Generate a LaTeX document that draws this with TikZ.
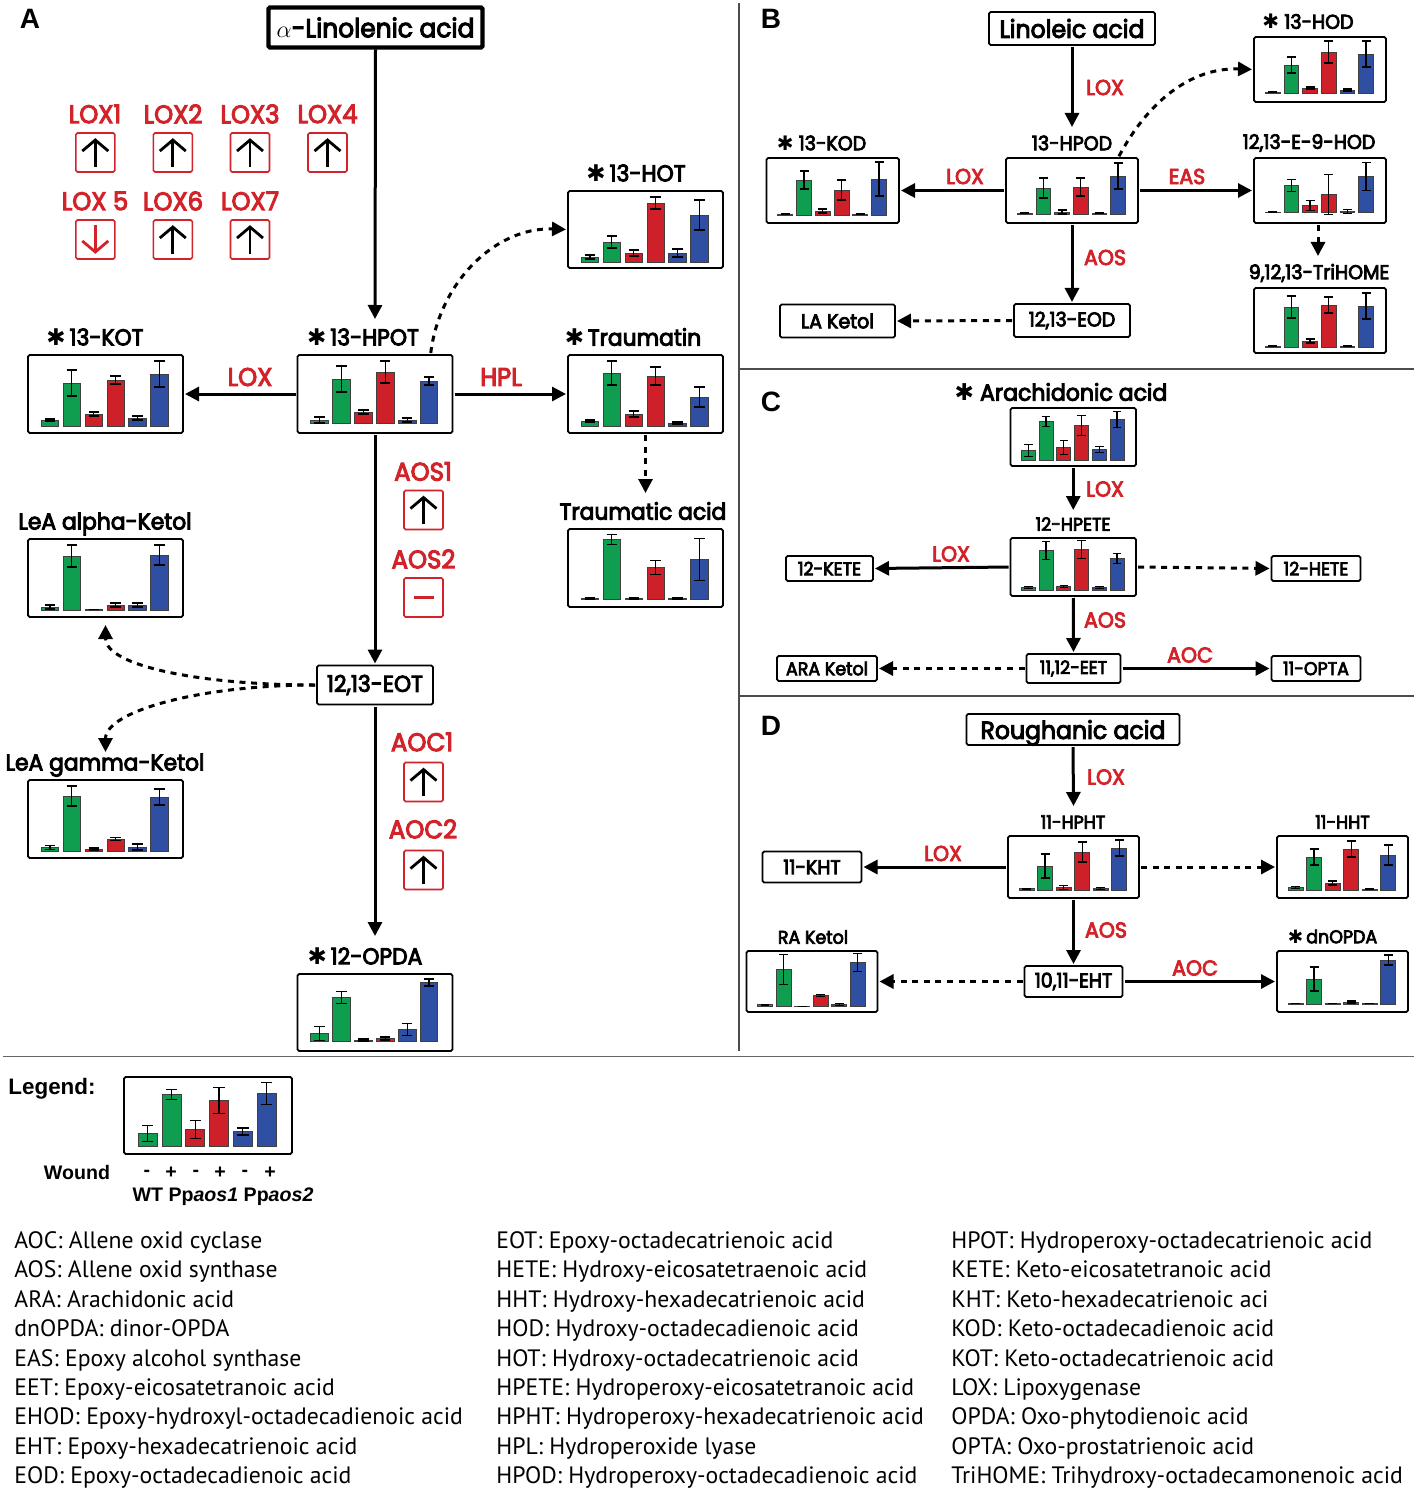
\documentclass[tikz,border=0pt]{standalone}
\usepackage{fontspec}
\usetikzlibrary{arrows.meta}
\setmainfont{Liberation Sans}
\newfontfamily\gothic[FakeStretch=0.95,FakeBold=4]{Poppins}
\newfontfamily\bodyfont{PT Sans}
\newfontfamily\dingfont{DejaVu Sans}

\definecolor{enzred}{HTML}{D2232A}
\definecolor{barc0}{HTML}{0F9D4F}
\colorlet{barc1}{barc0}
\definecolor{barc2}{HTML}{CE2029}
\colorlet{barc3}{barc2}
\definecolor{barc4}{HTML}{2F4FA2}
\colorlet{barc5}{barc4}

\newcommand{\starmark}{{\dingfont ✱}}

\tikzset{
	chartbox/.style={draw, line width=0.85pt, rounded corners=0.8pt, inner sep=0pt, outer sep=0pt, anchor=north west},
	textbox/.style={draw, line width=0.85pt, rounded corners=0.8pt, inner sep=0pt, outer sep=0pt},
	regbox/.style={draw=enzred, line width=0.8pt, rounded corners=0.8pt, inner sep=0pt, minimum width=19.5pt, minimum height=19.5pt},
	regarrow/.style={line width=1.4pt, -{Straight Barb[length=5.5pt,width=13pt]}},
	flow/.style={line width=1.5pt, shorten >=1pt, shorten <=1pt, -{Triangle[length=7pt,width=7pt]}},
	dashflow/.style={flow, dash pattern=on 3pt off 2.8pt},
	enzA/.style={text=enzred, font=\gothic\fontsize{12.8}{14}\selectfont, inner sep=0pt},
	enzB/.style={text=enzred, font=\gothic\fontsize{10.8}{12}\selectfont, inner sep=0pt},
	nameA/.style={font=\gothic\fontsize{11.5}{14}\selectfont, inner sep=0pt},
	nameB/.style={font=\gothic\fontsize{10}{12}\selectfont, inner sep=0pt},
	nameC/.style={font=\gothic\fontsize{9.2}{11}\selectfont, inner sep=0pt},
	panelmark/.style={font=\bfseries\fontsize{14}{16}\selectfont, inner sep=0pt},
	legendtext/.style={font=\bfseries\fontsize{9.8}{12}\selectfont, inner sep=0pt},
	abbrev/.style={font=\bodyfont\fontsize{11.85}{14}\selectfont, inner sep=0pt, anchor=base west}
}

% name, left, top, width, height, base, bars (height/error)
\newcommand{\barpanel}[7]{
	\node[chartbox, minimum width=#4*0.5pt, minimum height=#5*0.5pt] (#1) at (#2,#3) {};
	\begin{scope}[shift={(#1.south west)}]
		\pgfmathsetmacro{\barp}{#4*0.1415}
		\pgfmathsetmacro{\barw}{\barp*0.4}
		\foreach \h/\e [count=\i from 0] in {#7}{
			\pgfmathsetmacro{\barx}{\barp*(\i+1)}
			\draw[fill=barc\i, draw=black!75, line width=0.4pt] (\barx-\barw,-#6) rectangle (\barx+\barw,-#6-\h);
			\draw[line width=0.6pt] (\barx,-#6-\h-\e) -- (\barx,-#6-\h+\e);
			\draw[line width=0.6pt] (\barx-\barw*0.6,-#6-\h-\e) -- (\barx+\barw*0.6,-#6-\h-\e);
			\draw[line width=0.6pt] (\barx-\barw*0.6,-#6-\h+\e) -- (\barx+\barw*0.6,-#6-\h+\e);
		}
	\end{scope}
}
\newcommand{\upreg}[3]{
	\node[regbox] (#1) at (#2,#3) {};
	\draw[regarrow] ([yshift=3pt]#1.south) -- ([yshift=-3pt]#1.north);
}
\newcommand{\downreg}[3]{
	\node[regbox] (#1) at (#2,#3) {};
	\draw[regarrow, draw=enzred] ([yshift=-3pt]#1.north) -- ([yshift=3pt]#1.south);
}
\newcommand{\minusreg}[3]{
	\node[regbox] (#1) at (#2,#3) {};
	\draw[line width=1.6pt, draw=enzred] ([xshift=-5pt]#1.center) -- ([xshift=5pt]#1.center);
}

\begin{document}
\begin{tikzpicture}[x=0.5pt, y=-0.5pt]
	\useasboundingbox (0,0) rectangle (1417,1492);

	% dividers
	\draw[line width=0.75pt, black!70] (739,3) -- (739,1051);
	\draw[line width=0.75pt, black!70] (739,369) -- (1414,369);
	\draw[line width=0.75pt, black!70] (739,696) -- (1414,696);
	\draw[line width=0.5pt, black!60] (3,1056) -- (1414,1056);

	\node[panelmark] (markA) at (30,19) {A};
	\node[panelmark] (markB) at (771,19) {B};
	\node[panelmark] (markC) at (771,402) {C};
	\node[panelmark] (markD) at (771,726) {D};

	% panel A
	\node[textbox, line width=2.2pt, minimum width=107pt, minimum height=20pt, font=\gothic\fontsize{13.1}{16}\selectfont] (alinolenic) at (375.5,27.5) {$\alpha$-Linolenic acid};
	\foreach \lab/\x/\y in {LOX1/95/114, LOX2/173/114, LOX3/250/114, LOX4/327.5/114, LOX 5/95/201, LOX6/173/201, LOX7/250/201}
		\node[enzA] (t\lab) at (\x,\y) {\lab};
	\upreg{lox1}{95.3}{152.5}
	\upreg{lox2}{172.8}{152.5}
	\upreg{lox3}{250}{152.5}
	\upreg{lox4}{327.5}{152.5}
	\downreg{lox5}{95.3}{239.5}
	\upreg{lox6}{172.8}{239.5}
	\upreg{lox7}{250}{239.5}

	\barpanel{hot}{568}{191}{155}{77}{6}{5/2,20/6,9/3,59/6,9/4,47/15}
	\barpanel{kot}{28}{355}{155}{78}{7}{6/1,43/13,12/2,46/4,8/2,52/13}
	\barpanel{hpot}{297.5}{355}{155}{78}{10}{3/3,44/13,11/2,51/11,3/2,42/4}
	\barpanel{traumatin}{568}{355}{155}{78}{7}{5/1,53/12,12/3,50/9,3/1,29/10}
	\barpanel{traumatic}{568}{529}{155}{78}{7.5}{1/0.5,60/5,1/0.5,32/7,1/0.5,40/21}
	\barpanel{alphaketol}{28}{539}{155}{78}{7}{3/2,54/11,0.5/0,5/2,5/2,55/10}
	\barpanel{gammaketol}{28}{780}{155}{78}{7}{3.5/2,55/10,2/1,12/1.5,4/3,54/8}
	\barpanel{opda}{297.5}{974}{155}{77}{9.5}{8/7,44/6,1.5/1,3/1.5,12/6,59/3.5}
	\node[textbox, minimum width=58pt, minimum height=19.5pt, nameA] (eot) at (375,685) {12,13-EOT};

	\node[nameA] (thot) at (636,173) {\starmark\,13-HOT};
	\node[nameA] (tkot) at (95,337) {\starmark\,13-KOT};
	\node[nameA] (thpot) at (363,337) {\starmark\,13-HPOT};
	\node[nameA] (ttraumatin) at (633,337) {\starmark\,Traumatin};
	\node[nameA] (ttraumatic) at (643,511) {Traumatic acid};
	\node[nameA, text depth=0pt] (talpha) at (105,521) {LeA alpha-Ketol};
	\node[nameA, text depth=0pt] (tgamma) at (105,762) {LeA gamma-Ketol};
	\node[nameA] (topda) at (365,956) {\starmark\,12-OPDA};

	\node[enzA] (lhpotkot) at (250,377) {LOX};
	\node[enzA] (lhpl) at (501,377) {HPL};
	\node[enzA] (taos1) at (423,471.5) {AOS1};
	\upreg{aos1}{423.5}{510}
	\node[enzA] (taos2) at (423.5,559) {AOS2};
	\minusreg{aos2}{423.5}{597.5}
	\node[enzA] (taoc1) at (422,742) {AOC1};
	\upreg{aoc1}{423.5}{782}
	\node[enzA] (taoc2) at (423,829) {AOC2};
	\upreg{aoc2}{423.5}{870}

	\draw[flow] (alinolenic.south) -- ([yshift=17pt]hpot.north);
	\draw[flow] (hpot.west) -- (kot.east);
	\draw[flow] (hpot.east) -- (traumatin.west);
	\draw[flow] (hpot.south) -- (eot.north);
	\draw[flow] (eot.south) -- ([yshift=18pt]opda.north);
	\draw[dashflow] ([xshift=-11pt]hpot.north east) to[out=83,in=178] (hot.west);
	\draw[dashflow] (traumatin.south) -- ([yshift=17pt]traumatic.north);
	\draw[dashflow] (eot.west) .. controls +(-116,0) and +(0,43) .. ([yshift=-3pt]alphaketol.south);
	\draw[dashflow] (eot.west) .. controls +(-116,0) and +(0,-43) .. ([yshift=13pt]gammaketol.north);

	% panel B
	\node[textbox, minimum width=83pt, minimum height=16.5pt, font=\gothic\fontsize{12.4}{14}\selectfont] (linoleic) at (1072,28.5) {Linoleic acid};
	\barpanel{hod}{1254}{37}{132}{65}{9}{1/0.5,28/8,5/1,41/11,3/1,39/13}
	\barpanel{kod}{766.5}{158}{132.5}{65}{8}{1/0.5,35/9,4/2,25/10,1/0.5,36/17}
	\barpanel{hpod}{1006}{158}{132}{65}{9}{0.7/0.5,26/10,2/2,27/9,0.7/0.5,38/13}
	\barpanel{ehod}{1254}{158}{132}{65}{10.5}{0.5/0.3,27/6,7/5,18/20,1/2,36/14}
	\barpanel{trihome}{1254}{288}{132}{65}{6}{1/0.5,40/11,6/2,42/8,1/0.5,41/13}
	\node[textbox, minimum width=58pt, minimum height=16.5pt, nameB] (eod) at (1072,320.5) {12,13-EOD};
	\node[textbox, minimum width=57.5pt, minimum height=16.5pt, nameB] (laketol) at (837.5,321) {LA Ketol};

	\node[nameB] (thod) at (1308,21.5) {\starmark\ 13-HOD};
	\node[nameB] (tkod) at (821.5,143) {\starmark\ 13-KOD};
	\node[nameB] (thpod) at (1072,143) {13-HPOD};
	\node[nameB] (tehod) at (1309,143) {12,13-E-9-HOD};
	\node[nameB] (ttrihome) at (1319,273) {9,12,13-TriHOME};

	\node[enzB] (llinoleic) at (1105,87.5) {LOX};
	\node[enzB] (lhpodkod) at (965,176.5) {LOX};
	\node[enzB] (leas) at (1187,176.5) {EAS};
	\node[enzB] (laosb) at (1105,257.5) {AOS};

	\draw[flow] (linoleic.south) -- ([yshift=14.5pt]hpod.north);
	\draw[flow] (hpod.west) -- (kod.east);
	\draw[flow] (hpod.east) -- (ehod.west);
	\draw[flow] (hpod.south) -- (eod.north);
	\draw[dashflow] (eod.west) -- (laketol.east);
	\draw[dashflow] ([xshift=-10pt]hpod.north east) to[out=62,in=178] (hod.west);
	\draw[dashflow] ([xshift=-1pt]ehod.south) -- ([xshift=-1pt,yshift=15pt]trihome.north);

	% panel C
	\node[nameB, font=\gothic\fontsize{11.6}{13}\selectfont] (tarach) at (1061,392) {\starmark\ Arachidonic acid};
	\barpanel{arach}{1010.5}{408}{125.5}{58}{5.5}{10/6,39/5,13/7,35/10,11/3,41/8}
	\node[nameC] (thpete) at (1073,524) {12-HPETE};
	\barpanel{hpete}{1010.5}{538}{125.5}{58}{5.5}{3/1,40/9,4/1,41/9,3/1,32/5}
	\node[textbox, minimum width=43.5pt, minimum height=12.5pt, nameC] (kete) at (829.5,568.5) {12-KETE};
	\node[textbox, minimum width=44.5pt, minimum height=12.5pt, nameC] (hete) at (1316,568.5) {12-HETE};
	\node[textbox, minimum width=47pt, minimum height=14.5pt, nameC] (eet) at (1073.5,668.5) {11,12-EET};
	\node[textbox, minimum width=50pt, minimum height=12.5pt, nameC] (araketol) at (827,668.5) {ARA Ketol};
	\node[textbox, minimum width=44.5pt, minimum height=12.5pt, nameC] (opta) at (1316,668.5) {11-OPTA};

	\node[enzB] (larach) at (1105,489) {LOX};
	\node[enzB] (lhpete) at (951,554) {LOX};
	\node[enzB] (laosc) at (1105,620) {AOS};
	\node[enzB] (laocc) at (1190,655) {AOC};

	\draw[flow] (arach.south) -- ([yshift=13pt]hpete.north);
	\draw[flow] (hpete.west) -- (kete.east);
	\draw[flow] (hpete.south) -- (eet.north);
	\draw[dashflow] (hpete.east) -- (hete.west);
	\draw[dashflow] (eet.west) -- (araketol.east);
	\draw[flow] (eet.east) -- (opta.west);

	% panel D
	\node[textbox, minimum width=106.5pt, minimum height=15.5pt, text depth=0pt, font=\gothic\fontsize{12.4}{14}\selectfont] (roughanic) at (1073,729.5) {Roughanic acid};
	\node[nameC] (thpht) at (1073,822) {11-HPHT};
	\barpanel{hpht}{1008}{836}{131}{62}{8}{1.3/0.5,24/12,2.3/2,38/10,1.7/1,42/8}
	\node[nameC] (thht) at (1342.5,822) {11-HHT};
	\barpanel{hht}{1277}{836}{131}{62}{8}{2.7/1,33/8,7/2,41/8,1/0.5,35/10}
	\node[textbox, minimum width=49.5pt, minimum height=15.5pt, nameB] (kht) at (812,867) {11-KHT};
	\node[textbox, minimum width=49pt, minimum height=15.5pt, nameB] (eht) at (1073.5,981.5) {10,11-EHT};
	\node[nameC] (traketol) at (813,937) {RA Ketol};
	\barpanel{raketol}{746.5}{951}{131}{61}{5.5}{1.7/0.5,37/15,0.3/0,11/1,1.7/1,44/9}
	\node[nameC] (tdnopda) at (1332.5,936.5) {\starmark\,dnOPDA};
	\barpanel{dnopda}{1277}{951}{131}{61}{8}{0.5/0.3,25/12,0.5/0.3,2/1,0.5/0.3,44/5}

	\node[enzB] (lrough) at (1106,777) {LOX};
	\node[enzB] (lhpht) at (943,853.5) {LOX};
	\node[enzB] (laosd) at (1106,930) {AOS};
	\node[enzB] (laocd) at (1195,968) {AOC};

	\draw[flow] (roughanic.south) -- ([yshift=14pt]hpht.north);
	\draw[flow] (hpht.west) -- (kht.east);
	\draw[flow] (hpht.south) -- (eht.north);
	\draw[dashflow] (hpht.east) -- (hht.west);
	\draw[dashflow] (eht.west) -- (raketol.east);
	\draw[flow] (eht.east) -- (dnopda.west);

	% legend
	\node[legendtext, text depth=0pt, font=\bfseries\fontsize{11.2}{13}\selectfont] (tlegend) at (52,1086) {Legend:};
	\barpanel{legend}{124}{1077}{168}{77}{7.5}{13/8,52/5,17/9,46/13,15/3.5,53/11}
	\node[legendtext] (twound) at (77,1172) {Wound};
	\foreach \s/\x [count=\i] in {-/147,+/171,-/196,+/220,-/245,+/270}
		\node[legendtext] (sign\i) at (\x,1173) {\s};
	\node[legendtext, text depth=0pt] (tlines) at (223,1195) {WT Pp\textit{aos1} Pp\textit{aos2}};

	% abbreviations
	\foreach \txt [count=\i from 0] in {AOC: Allene oxid cyclase, AOS: Allene oxid synthase, ARA: Arachidonic acid, dnOPDA: dinor-OPDA, EAS: Epoxy alcohol synthase, EET: Epoxy-eicosatetranoic acid, EHOD: Epoxy-hydroxyl-octadecadienoic acid, EHT: Epoxy-hexadecatrienoic acid, EOD: Epoxy-octadecadienoic acid}
		\node[abbrev] (ca\i) at (14,1248.5+29.4*\i) {\txt};
	\foreach \txt [count=\i from 0] in {EOT: Epoxy-octadecatrienoic acid, HETE: Hydroxy-eicosatetraenoic acid, HHT: Hydroxy-hexadecatrienoic acid, HOD: Hydroxy-octadecadienoic acid, HOT: Hydroxy-octadecatrienoic acid, HPETE: Hydroperoxy-eicosatetranoic acid, HPHT: Hydroperoxy-hexadecatrienoic acid, HPL: Hydroperoxide lyase, HPOD: Hydroperoxy-octadecadienoic acid}
		\node[abbrev] (cb\i) at (496,1248.5+29.4*\i) {\txt};
	\foreach \txt [count=\i from 0] in {HPOT: Hydroperoxy-octadecatrienoic acid, KETE: Keto-eicosatetranoic acid, KHT: Keto-hexadecatrienoic aci, KOD: Keto-octadecadienoic acid, KOT: Keto-octadecatrienoic acid, LOX: Lipoxygenase, OPDA: Oxo-phytodienoic acid, OPTA: Oxo-prostatrienoic acid, TriHOME: Trihydroxy-octadecamonenoic acid}
		\node[abbrev] (cc\i) at (951,1248.5+29.4*\i) {\txt};
\end{tikzpicture}
\end{document}
